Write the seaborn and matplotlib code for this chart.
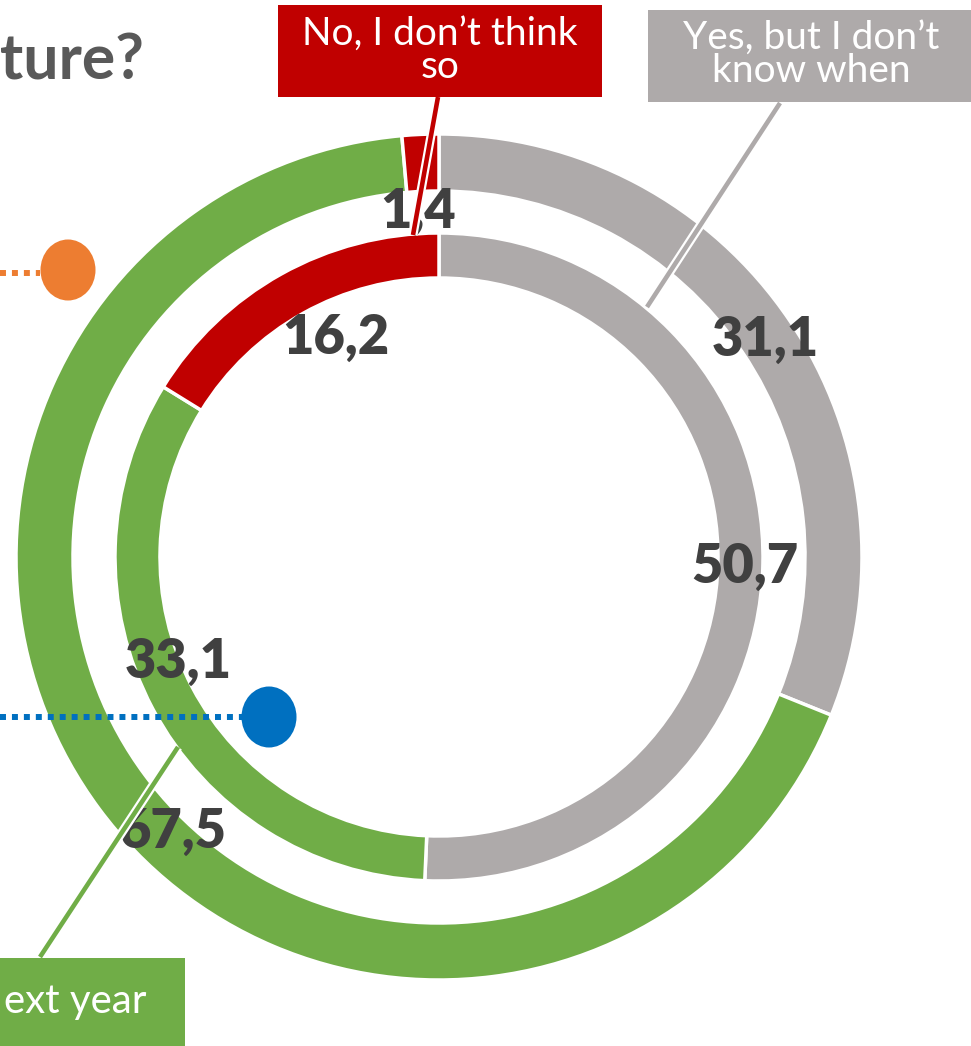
import numpy as np
import matplotlib
matplotlib.use("Agg")
import matplotlib.pyplot as plt
import seaborn as sns
from matplotlib.patches import Ellipse, Rectangle
import matplotlib.patheffects as pe

# ---- data ----
categories = ["Yes, but I don\u2019t know when", "Yes, next year", "No, I don\u2019t think so"]
box_texts = ["Yes, but I don\u2019t\nknow when", "ext year", "No, I don\u2019t think\nso"]
outer_values = [31.1, 67.5, 1.4]
inner_values = [50.7, 33.1, 16.2]
outer_labels = ["31,1", "67,5", "1,4"]
inner_labels = ["50,7", "33,1", "16,2"]
colors = ["#AEAAAA", "#70AD47", "#C00000"]

sns.set_theme(style="white")
plt.rcParams['font.family'] = ['Lato', 'DejaVu Sans']

W, H = 971, 1046
fig = plt.figure(figsize=(W / 100, H / 100), dpi=100)
ax = fig.add_axes([0, 0, 1, 1])

cx, cy = 439, 557
R_out, w_out = 423, 57
R_in, w_in = 324, 45
wp = dict(edgecolor="white", linewidth=2.5)
ax.pie(outer_values, radius=R_out, center=(cx, cy), colors=colors, startangle=270,
       counterclock=True, wedgeprops=dict(width=w_out, **wp))
ax.pie(inner_values, radius=R_in, center=(cx, cy), colors=colors, startangle=270,
       counterclock=True, wedgeprops=dict(width=w_in, **wp))
ax.set_xlim(0, W)
ax.set_ylim(H, 0)
ax.set_aspect("auto")
ax.axis("off")

# value labels (layout positions)
lab_col = "#404040"
outer_pos = [(765, 340), (173, 832), (418, 212)]
inner_pos = [(745, 567), (178, 662), (336, 338)]
for txt, (x, y) in zip(outer_labels + inner_labels, outer_pos + inner_pos):
    ax.text(x, y, txt, ha="center", va="center", fontsize=39, fontweight="heavy",
            color=lab_col, zorder=5)

# leader lines
halo = [pe.Stroke(linewidth=6.5, foreground="white"), pe.Normal()]
leaders = [((780, 103), (647, 307)), ((40, 957), (178, 747)), ((438, 97), (413, 235))]
for (p0, p1), c in zip(leaders, colors):
    ax.plot([p0[0], p1[0]], [p0[1], p1[1]], color=c, lw=3.3, solid_capstyle="butt",
            path_effects=halo, zorder=6)

# category boxes
boxes = [(648, 10, 340, 92), (-5, 958, 190, 95), (278, 5, 324, 92)]
text_pos = [(811, 54, "center"), (147, 1002, "right"), (440, 50, "center")]
sizes = [28, 29, 28]
for (bx, by, bw, bh), (tx, ty, ha), c, bt, fs in zip(boxes, text_pos, colors, box_texts, sizes):
    ax.add_patch(Rectangle((bx, by), bw, bh, facecolor=c, edgecolor="none", zorder=7))
    ax.text(tx, ty, bt, ha=ha, va="center", fontsize=fs, color="white", fontweight="normal",
            linespacing=0.9, zorder=8, multialignment="center")

# markers with dotted lines
ax.plot([0, 40], [273, 273], color="#ED7D31", lw=4.3, linestyle=(0, (1, 1)),
        dash_capstyle="butt", zorder=3)
ax.add_patch(Ellipse((68, 270), 55, 61, facecolor="#ED7D31", edgecolor="none", zorder=4))
ax.plot([0, 242], [717, 717], color="#0070C0", lw=4.3, linestyle=(0, (1, 1)),
        dash_capstyle="butt", zorder=3)
ax.add_patch(Ellipse((269, 717), 55, 61, facecolor="#0070C0", edgecolor="none", zorder=4))

# title fragment
ax.text(0, 80, "ture?", ha="left", va="baseline", fontsize=45, fontweight="bold",
        color="#595959")

fig.savefig("out.png", dpi=100)
